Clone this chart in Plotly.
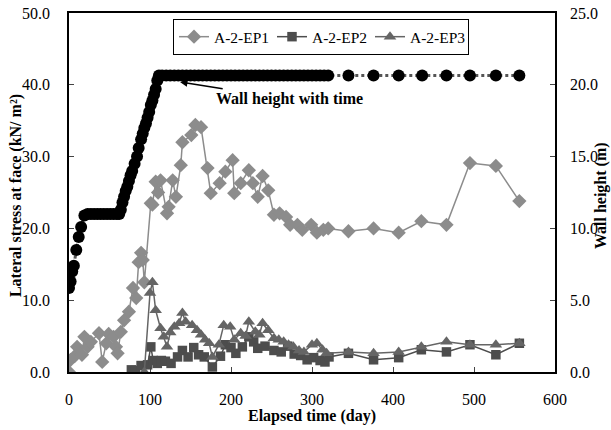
import plotly.graph_objects as go

# Wall height with time (m) - right axis
wall_days = [0, 2, 4, 6, 9, 12, 15, 19, 23, 27,
             31, 35, 39, 43, 47, 51, 55, 59, 62, 64,
             66, 68, 70, 72, 74, 76, 78, 81, 84, 86,
             89, 91, 93, 95, 97, 99, 101, 103, 105, 107,
             109, 111, 115, 120, 125, 130, 135, 140, 145, 150,
             155, 160, 165, 170, 175, 180, 185, 190, 195, 200,
             205, 210, 215, 220, 225, 230, 235, 240, 245, 250,
             255, 260, 265, 270, 275, 280, 285, 290, 295, 300,
             305, 310, 315, 320, 345, 376, 407, 436, 466, 495,
             527, 556]
wall_height = [5.85, 6.3, 7.0, 7.4, 8.5, 9.4, 10.1, 10.9, 11.0, 11.0,
               11.0, 11.0, 11.0, 11.0, 11.0, 11.0, 11.0, 11.0, 11.0, 11.3,
               11.8, 12.2, 12.6, 12.9, 13.3, 13.7, 14.0, 14.5, 15.0, 15.6,
               16.2, 16.6, 17.0, 17.3, 17.7, 18.1, 18.6, 18.9, 19.3, 19.7,
               20.3, 20.65, 20.65, 20.65, 20.65, 20.65, 20.65, 20.65, 20.65, 20.65,
               20.65, 20.65, 20.65, 20.65, 20.65, 20.65, 20.65, 20.65, 20.65, 20.65,
               20.65, 20.65, 20.65, 20.65, 20.65, 20.65, 20.65, 20.65, 20.65, 20.65,
               20.65, 20.65, 20.65, 20.65, 20.65, 20.65, 20.65, 20.65, 20.65, 20.65,
               20.65, 20.65, 20.65, 20.65, 20.65, 20.65, 20.65, 20.65, 20.65, 20.65,
               20.65, 20.65]

# A-2-EP1 lateral stress (kN/m2)
ep1_days = [0, 2, 7, 10, 16, 19, 23, 27, 37, 41,
            46, 49, 55, 58, 60, 64, 68, 74, 79, 83,
            86, 89, 91, 93, 101, 103, 107, 110, 113, 121,
            123, 128, 132, 138, 140, 151, 156, 163, 171, 175,
            186, 193, 202, 204, 212, 222, 227, 233, 239, 246,
            253, 260, 268, 273, 282, 288, 299, 306, 314, 320,
            345, 376, 407, 435, 466, 495, 527, 556]
ep1_vals = [0, 1.7, 2.2, 3.5, 2.4, 4.9, 3.5, 4.2, 5.4, 1.4,
            4.0, 5.3, 4.9, 3.5, 2.6, 5.6, 7.2, 8.4, 11.7, 10.3,
            15.3, 16.6, 15.6, 12.5, 23.5, 23.3, 26.5, 25.0, 26.7, 22.1,
            23.0, 26.7, 24.4, 28.8, 32.0, 33.0, 34.4, 34.1, 28.4, 24.9,
            26.3, 27.9, 29.5, 24.9, 26.3, 28.1, 26.3, 24.4, 27.3, 25.3,
            21.9, 22.1, 21.6, 20.5, 20.5, 19.8, 20.5, 19.4, 19.8, 20.0,
            19.6, 20.0, 19.4, 21.0, 20.5, 29.1, 28.7, 23.8]

# A-2-EP2
ep2_days = [77, 82, 89, 97, 101, 104, 109, 114, 119, 126,
            134, 140, 147, 154, 160, 167, 177, 187, 193, 200,
            206, 214, 222, 228, 233, 242, 253, 262, 270, 278,
            286, 294, 302, 310, 316, 321, 345, 376, 407, 435,
            466, 495, 527, 556]
ep2_vals = [0.3, 0.2, 0.9, 1.0, 3.5, 1.6, 1.2, 1.6, 1.5, 1.2,
            2.1, 3.0, 2.1, 3.4, 2.4, 2.1, 0.7, 2.2, 3.8, 3.4,
            2.6, 3.5, 4.9, 4.2, 3.3, 3.6, 3.0, 2.8, 3.6, 2.5,
            2.3, 1.7, 2.0, 1.6, 1.4, 2.1, 2.6, 1.7, 2.0, 3.1,
            2.8, 3.8, 2.4, 4.0]

# A-2-EP3
ep3_days = [93, 100, 103, 107, 113, 117, 121, 125, 130, 136,
            140, 144, 152, 158, 163, 168, 173, 177, 185, 191,
            199, 204, 212, 218, 222, 230, 235, 239, 246, 253,
            259, 265, 271, 277, 284, 290, 300, 306, 313, 318,
            345, 376, 407, 435, 466, 495, 527, 556]
ep3_vals = [0, 11.0, 12.5, 8.6, 6.1, 4.9, 3.5, 5.5, 6.3, 6.8,
            8.2, 7.0, 6.5, 5.8, 5.2, 4.5, 4.0, 2.1, 3.8, 6.5,
            6.3, 4.5, 5.4, 5.0, 7.0, 5.6, 5.2, 6.8, 5.8, 4.7,
            4.5, 4.2, 3.8, 3.5, 3.0, 2.8, 3.8, 4.0, 3.1, 2.6,
            2.8, 2.6, 2.8, 3.5, 4.2, 3.8, 3.8, 4.0]

x_ticks = [0, 100, 200, 300, 400, 500, 600]
left_ticks = [0, 10, 20, 30, 40, 50]
right_ticks = [0, 5, 10, 15, 20, 25]

FONT = "Liberation Serif"
FS = 16

fig = go.Figure()

fig.add_trace(go.Scatter(
    x=wall_days, y=wall_height, yaxis="y2", mode="lines+markers",
    name="Wall height", showlegend=False,
    line=dict(color="#555555", width=3, dash="dot"),
    marker=dict(symbol="circle", size=12, color="black"),
))
fig.add_trace(go.Scatter(
    x=ep1_days, y=ep1_vals, mode="lines+markers", name="A-2-EP1",
    line=dict(color="#8c8c8c", width=1.5),
    marker=dict(symbol="diamond", size=11, color="#8c8c8c"),
))
fig.add_trace(go.Scatter(
    x=ep2_days, y=ep2_vals, mode="lines+markers", name="A-2-EP2",
    line=dict(color="#4d4d4d", width=1.5),
    marker=dict(symbol="square", size=9.5, color="#4d4d4d"),
))
fig.add_trace(go.Scatter(
    x=ep3_days, y=ep3_vals, mode="lines+markers", name="A-2-EP3",
    line=dict(color="#656565", width=1.5),
    marker=dict(symbol="triangle-up", size=11, color="#656565"),
))

fig.add_annotation(
    x=137, y=40.4, xref="x", yref="y",
    ax=272, ay=38.0, axref="x", ayref="y",
    text="<b>Wall height with time</b>", showarrow=True,
    arrowhead=2, arrowsize=1, arrowwidth=1.5, arrowcolor="black",
    font=dict(family=FONT, size=FS, color="black"),
)

# Axis titles placed as annotations
fig.add_annotation(
    xref="paper", yref="paper", x=0, y=0.49, xshift=-53, textangle=-90,
    xanchor="center", yanchor="middle",
    text="<b>Lateral stress at face (kN/ m²)</b>", showarrow=False,
    font=dict(family=FONT, size=FS, color="black"),
)
fig.add_annotation(
    xref="paper", yref="paper", x=1, y=0.49, xshift=46, textangle=-90,
    xanchor="center", yanchor="middle",
    text="<b>Wall height (m)</b>", showarrow=False,
    font=dict(family=FONT, size=FS, color="black"),
)
fig.add_annotation(
    xref="paper", yref="paper", x=0.5, y=0, yshift=-44,
    xanchor="center", yanchor="middle",
    text="<b>Elapsed time (day)</b>", showarrow=False,
    font=dict(family=FONT, size=FS, color="black"),
)

fig.update_layout(
    width=611, height=430,
    margin=dict(l=69, r=56, t=13, b=58),
    paper_bgcolor="white", plot_bgcolor="white",
    font=dict(family=FONT, size=FS, color="black"),
    xaxis=dict(
        range=[0, 600], tickvals=x_ticks, ticks="inside", ticklen=5,
        showgrid=False, zeroline=False, showline=True, linecolor="black",
        linewidth=1.5, mirror=True, automargin=False, ticklabelstandoff=12,
        ticklabeloverflow="allow",
    ),
    yaxis=dict(
        range=[0, 50], tickvals=left_ticks, tickformat=".1f",
        ticks="inside", ticklen=5, showgrid=False, zeroline=False,
        showline=True, linecolor="black", linewidth=1.5, mirror=True,
        automargin=False, ticklabelstandoff=14, ticklabeloverflow="allow",
    ),
    yaxis2=dict(
        range=[0, 25], tickvals=right_ticks, tickformat=".1f",
        overlaying="y", side="right", ticks="inside", ticklen=5,
        showgrid=False, zeroline=False, showline=True, linecolor="black",
        linewidth=1.5, automargin=False, ticklabelstandoff=10,
        ticklabeloverflow="allow",
    ),
    legend=dict(
        orientation="h", x=0.214, y=0.983, xanchor="left", yanchor="top",
        bordercolor="black", borderwidth=1, bgcolor="white",
        font=dict(family=FONT, size=15.5), itemwidth=30,
        entrywidth=53, entrywidthmode="pixels",
    ),
)

fig.write_html("out.html",
               config={"displayModeBar": False},
               post_script="document.body.style.margin='0';")
